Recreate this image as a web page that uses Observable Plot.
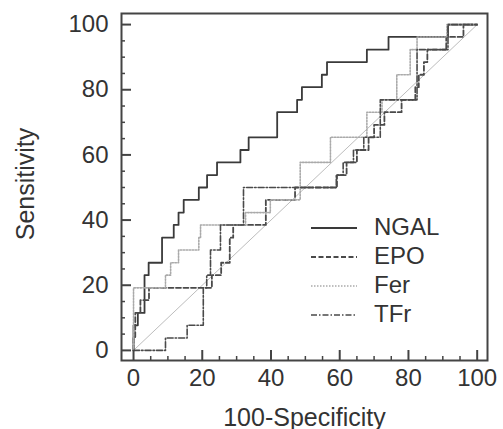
<!DOCTYPE html>
<html><head><meta charset="utf-8">
<script src="https://cdn.jsdelivr.net/npm/d3@7"></script>
<script src="https://cdn.jsdelivr.net/npm/@observablehq/plot@0.6"></script>
<style>
html,body{margin:0;padding:0;background:#fff;}
#chart{width:503px;height:429px;}
</style></head><body><div id="chart"></div>
<script>
// Series names
const seriesNames = ["NGAL", "EPO", "Fer", "TFr"];
// Step curves: at x = *X[i] the curve rises to *Y[i] (100-Specificity, Sensitivity)
const ngalX = [0, 0, 1.25, 3.2, 4.4, 8.3, 11.7, 13.1, 14.6, 19, 21.4, 24.3, 31.1, 33.5, 41.8, 47.6, 49, 54.8, 56.3, 67.9, 74.2, 91.5, 100];
const ngalY = [0, 7.7, 11.5, 23.1, 26.9, 34.6, 38.5, 42.3, 46.2, 50, 53.8, 57.7, 61.5, 65.4, 73.1, 76.9, 80.8, 84.6, 88.5, 92.3, 96.2, 100, 100];
const epoX = [0, 0, 0.5, 2, 4.5, 22.8, 25.5, 28, 29, 38.5, 47, 59.2, 62, 65, 68.4, 70, 73, 78, 82, 83, 84.5, 85.5, 91, 96, 100];
const epoY = [0, 3.8, 11.5, 15.4, 19.2, 23.1, 26.9, 34.6, 38.5, 46.2, 50, 53.8, 57.7, 61.5, 65.4, 69.2, 73.1, 76.9, 80.8, 84.6, 88.5, 92.3, 96.2, 100, 100];
const ferX = [0, 0, 9.3, 10.8, 13.1, 19, 19.5, 32.6, 39.8, 48.5, 57.3, 67.9, 72.3, 76.6, 80.5, 82.5, 91.2, 100];
const ferY = [0, 19.2, 23.1, 26.9, 30.8, 34.6, 38.5, 42.3, 46.2, 57.7, 65.4, 73.1, 76.9, 84.6, 92.3, 96.2, 100, 100];
const tfrX = [0, 9.3, 15.6, 20.3, 21.3, 22.4, 25.3, 32, 59, 61, 64, 67, 71.8, 82.5, 91.5, 100];
const tfrY = [0, 3.8, 7.7, 19.2, 23.1, 30.8, 38.5, 50, 53.8, 57.7, 61.5, 65.4, 76.9, 92.3, 100, 100];
// Reference diagonal
const diagonal = [0, 100];
// Axis ticks and labels
const majorTicks = [0, 20, 40, 60, 80, 100];
const minorTicks = [5, 10, 15, 25, 30, 35, 45, 50, 55, 65, 70, 75, 85, 90, 95];
const xLabel = "100-Specificity";
const yLabel = "Sensitivity";

const seriesData = [[ngalX, ngalY], [epoX, epoY], [ferX, ferY], [tfrX, tfrY]];
const styles = [
  {stroke: "#3a3a3a", strokeWidth: 1.8, strokeDasharray: null},
  {stroke: "#4a4a4a", strokeWidth: 1.8, strokeDasharray: "5,2.5"},
  {stroke: "#aaaaaa", strokeWidth: 1.6, strokeDasharray: "1.5,1.5"},
  {stroke: "#4a4a4a", strokeWidth: 1.6, strokeDasharray: "6,2,1.5,2"}
];
const font = "'Liberation Sans', Arial, sans-serif";
const ink = "#333";
const axisInk = "#444";

// layout
const W = 503, H = 429, mL = 121, mR = 16, mT = 13, mB = 69;
const xDom = [-3.5, 103], yDom = [-3.1, 103.4];
const xPerPx = (xDom[1] - xDom[0]) / (W - mL - mR);
const yPerPx = (yDom[1] - yDom[0]) / (H - mT - mB);

const lineMarks = seriesData.map(([xs, ys], i) =>
  Plot.line(xs.map((x, j) => ({x, y: ys[j]})), {x: "x", y: "y", curve: "step-after", ...styles[i]})
);
const tickMarks = [[minorTicks, 4, 1.5], [majorTicks, 10, 2]].flatMap(([ticks, len, w]) => [
  Plot.ruleX(ticks, {x: d => d, y1: yDom[0], y2: yDom[0] + len * yPerPx, stroke: axisInk, strokeWidth: w}),
  Plot.ruleY(ticks, {y: d => d, x1: xDom[0], x2: xDom[0] + len * xPerPx, stroke: axisInk, strokeWidth: w})
]);

const chart = Plot.plot({
  width: W, height: H,
  marginLeft: mL, marginRight: mR, marginTop: mT, marginBottom: mB,
  x: {domain: xDom},
  y: {domain: yDom},
  style: {fontFamily: font, fontSize: "24px", color: ink, background: "#fff"},
  marks: [
    Plot.line(diagonal, {x: d => d, y: d => d, stroke: "#bdbdbd", strokeWidth: 1}),
    ...lineMarks,
    ...tickMarks,
    Plot.frame({stroke: axisInk, strokeWidth: 2}),
    Plot.axisX(majorTicks, {tickSize: 0, tickPadding: 8, fontSize: 24, fill: ink, label: null}),
    Plot.axisY(majorTicks, {tickSize: 0, tickPadding: 13, fontSize: 24, fill: ink, label: null}),
    Plot.text([xLabel], {frameAnchor: "bottom", dy: 65, lineAnchor: "bottom", textAnchor: "middle", fontSize: 25, fill: ink}),
    Plot.text([yLabel], {frameAnchor: "left", dx: -96, dy: -3, rotate: -90, textAnchor: "middle", lineAnchor: "middle", fontSize: 25, fill: ink})
  ]
});

// Legend inside plot area
const svg = d3.select(chart);
const lg = svg.append("g").attr("font-family", font).attr("font-size", 24).attr("fill", ink).attr("text-anchor", "start");
seriesNames.forEach((name, i) => {
  const y = 228 + i * 29;
  const s = styles[i];
  lg.append("line").attr("x1", 311).attr("x2", 357).attr("y1", y).attr("y2", y)
    .attr("stroke", s.stroke).attr("stroke-width", s.strokeWidth)
    .attr("stroke-dasharray", s.strokeDasharray);
  lg.append("text").attr("x", 374).attr("y", y - 1).attr("dy", "0.35em").attr("text-anchor", "start").text(name);
});

document.getElementById("chart").appendChild(chart);
</script>
</body></html>
